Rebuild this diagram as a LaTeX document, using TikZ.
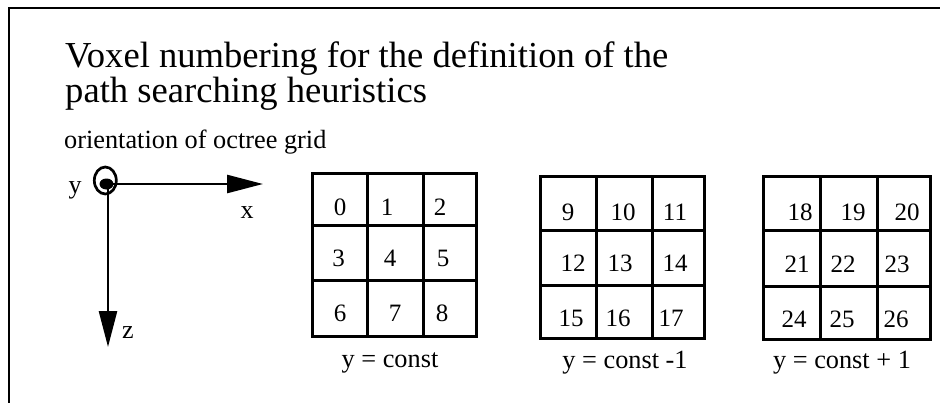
\documentclass[tikz,border=0pt]{standalone}
\usepackage{fontspec}
\setmainfont{Liberation Serif}
\usetikzlibrary{arrows.meta}
\begin{document}
\begin{tikzpicture}[x=1pt,y=-1pt,
  frameline/.style={line width=2.8pt},
  gridline/.style={line width=3pt},
  axisline/.style={line width=2.6pt,-{Triangle[length=36pt,width=18pt]}},
  titletext/.style={inner sep=0pt,anchor=base west,font=\fontsize{36.6}{40}\selectfont},
  subtext/.style={inner sep=0pt,anchor=base west,font=\fontsize{26.3}{30}\selectfont},
  num/.style={inner sep=0pt,anchor=base,font=\fontsize{25}{28}\selectfont},
  captext/.style={inner sep=0pt,anchor=base,font=\fontsize{26.3}{30}\selectfont},
  axlabel/.style={inner sep=0pt,anchor=base,font=\fontsize{26}{30}\selectfont}]
\useasboundingbox (0,0) rectangle (940,402);
% frame
\coordinate (fbl) at (9,404);
\coordinate (ftl) at (9,8);
\coordinate (ftr) at (942,8);
\draw[frameline] (fbl) -- (ftl) -- (ftr);
% title
\node[titletext] (title1) at (65,67) {Voxel numbering for the definition of the};
\node[titletext] (title2) at (65,102) {path searching heuristics};
\node[subtext] (sub) at (64,148) {orientation of octree grid};
% axes
\coordinate (O) at (108,184);
\coordinate (X) at (263,184);
\coordinate (Z) at (108,347);
\draw[axisline] (O) -- (X);
\draw[axisline] (O) -- (Z);
\draw[line width=2.7pt] (105.3,180.5) ellipse [x radius=11, y radius=13.5];
\fill (106.5,184) ellipse [x radius=7, y radius=5.5];
\node[axlabel] (ylab) at (75,193) {y};
\node[axlabel] (xlab) at (247,218) {x};
\node[axlabel] (zlab) at (128,338) {z};
% grid 1
\draw[gridline] (312,173.3) rectangle (476,336);
\draw[gridline] (367,173.3) -- (367,336) (423,173.3) -- (423,336)
                (312,225) -- (476,225) (312,280) -- (476,280);
\node[num] (n0) at (340,215) {0};
\node[num] (n1) at (387,215) {1};
\node[num] (n2) at (440,215) {2};
\node[num] (n3) at (338.5,266.7) {3};
\node[num] (n4) at (390,266.7) {4};
\node[num] (n5) at (443,266.7) {5};
\node[num] (n6) at (340,321.7) {6};
\node[num] (n7) at (395,321.7) {7};
\node[num] (n8) at (442,321.7) {8};
\node[captext] (c1) at (390,367) {y = const};
% grid 2
\draw[gridline] (540,176) rectangle (704,338);
\draw[gridline] (596,176) -- (596,338) (652.7,176) -- (652.7,338)
                (540,230) -- (704,230) (540,285) -- (704,285);
\node[num] (n9) at (568,220) {9};
\node[num] (n10) at (623,220) {10};
\node[num] (n11) at (675,220) {11};
\node[num] (n12) at (573,271.7) {12};
\node[num] (n13) at (620,271.7) {13};
\node[num] (n14) at (675,271.7) {14};
\node[num] (n15) at (571,326.7) {15};
\node[num] (n16) at (618,326.7) {16};
\node[num] (n17) at (671,326.7) {17};
\node[captext] (c2) at (625,368.5) {y = const -1};
% grid 3
\draw[gridline] (763,176) rectangle (930,339);
\draw[gridline] (820,176) -- (820,339) (877,176) -- (877,339)
                (763,230) -- (930,230) (763,286) -- (930,286);
\node[num] (n18) at (800,220) {18};
\node[num] (n19) at (853,220) {19};
\node[num] (n20) at (907,220) {20};
\node[num] (n21) at (797,272) {21};
\node[num] (n22) at (843,272) {22};
\node[num] (n23) at (897,272) {23};
\node[num] (n24) at (794,327) {24};
\node[num] (n25) at (842,327) {25};
\node[num] (n26) at (896,327) {26};
\node[captext] (c3) at (842,368) {y = const + 1};
\end{tikzpicture}
\end{document}
